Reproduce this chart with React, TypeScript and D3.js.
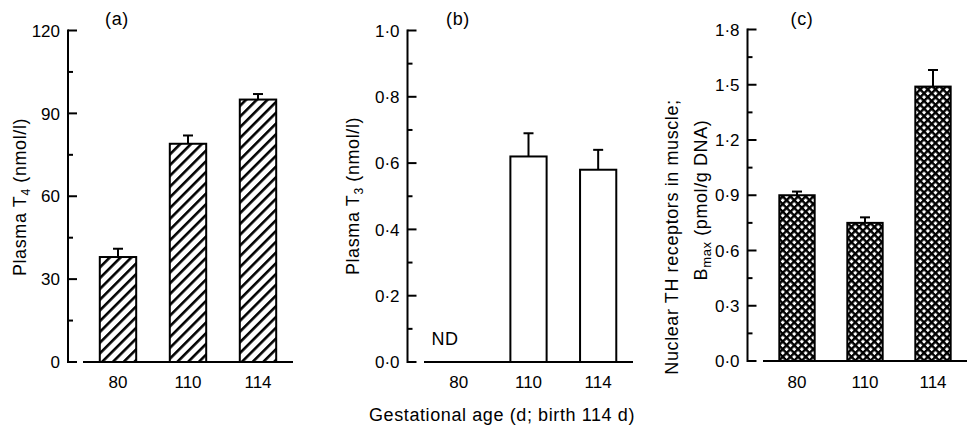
import React from 'react'
import * as d3 from 'd3'

// gestational age groups (d)
const categories = ['80', '110', '114']

// (a) plasma T4, nmol/l
const t4Values = [38, 79, 95]
const t4Errors = [3, 3, 2]
const t4Ticks = [0, 30, 60, 90, 120]

// (b) plasma T3, nmol/l (not detected at 80 d)
const t3Values: (number | null)[] = [null, 0.62, 0.58]
const t3Errors: (number | null)[] = [null, 0.07, 0.06]
const t3Ticks = [0, 0.2, 0.4, 0.6, 0.8, 1.0]

// (c) nuclear TH receptors, Bmax pmol/g DNA
const receptorValues = [0.9, 0.75, 1.49]
const receptorErrors = [0.02, 0.03, 0.09]
const receptorTicks = [0, 0.3, 0.6, 0.9, 1.2, 1.5, 1.8]

const font = '"Liberation Sans", Arial, Helvetica, sans-serif'

const dotFormat = (d: number) => d.toFixed(1).replace('.', '·')

// label text style
const lab = { fontSize: 18, letterSpacing: 0.6 }

type PanelProps = {
  title: string
  titleX: number
  axisX: number
  baseStart: number
  baseEnd: number
  yRange: [number, number]
  ticks: number[]
  values: (number | null)[]
  errors: (number | null)[]
  fill: string
  format: (d: number) => string
  children?: React.ReactNode
}

function Panel(props: PanelProps) {
  const { title, titleX, axisX, baseStart, baseEnd, yRange, ticks, values, errors, fill, format } = props

  const x = d3
    .scaleBand()
    .domain(categories)
    .range([baseStart, baseEnd])
    .paddingInner(0.48)
    .paddingOuter(0.24)

  const y = d3
    .scaleLinear()
    .domain([0, ticks[ticks.length - 1]])
    .range(yRange)

  // minor ticks halfway between labelled ones
  const minor = d3.pairs(ticks).map(([a, b]) => (a + b) / 2)
  const mid = (c: string) => x(c)! + x.bandwidth() / 2

  return (
    <g>
      <text x={titleX} y={25} textAnchor="middle" {...lab}>
        {title}
      </text>

      {/* y axis */}
      <line x1={axisX} x2={axisX} y1={y(ticks[ticks.length - 1]) - 1} y2={y(0) + 1} stroke="#000" strokeWidth={2} />
      {ticks.map((t, i) => (
        <g key={i} transform={`translate(${axisX}, ${y(t)})`}>
          <line x1={0} x2={9} stroke="#000" strokeWidth={2} />
          <text x={-8} dy="0.36em" textAnchor="end" fontSize={17}>
            {format(t)}
          </text>
        </g>
      ))}
      {minor.map((t, i) => (
        <line key={i} x1={axisX} x2={axisX + 5} y1={y(t)} y2={y(t)} stroke="#000" strokeWidth={2} />
      ))}

      {/* baseline */}
      <line x1={baseStart} x2={baseEnd} y1={y(0)} y2={y(0)} stroke="#000" strokeWidth={2} />

      {/* bars with upper error bars */}
      {values.map((v, i) => {
        if (v == null) return null
        const c = categories[i]
        const top = y(v + (errors[i] ?? 0))
        return (
          <g key={i}>
            <line x1={mid(c)} x2={mid(c)} y1={y(v)} y2={top} stroke="#000" strokeWidth={2} />
            <line x1={mid(c) - 5} x2={mid(c) + 5} y1={top} y2={top} stroke="#000" strokeWidth={2} />
            <rect
              x={x(c)}
              y={y(v)}
              width={x.bandwidth()}
              height={y(0) - y(v)}
              fill={fill}
              stroke="#000"
              strokeWidth={2}
            />
          </g>
        )
      })}

      {/* category labels */}
      {categories.map(c => (
        <text key={c} x={mid(c)} y={388} textAnchor="middle" fontSize={17}>
          {c}
        </text>
      ))}

      {props.children}
    </g>
  )
}

export default function App() {
  return (
    <svg
      width={967}
      height={437}
      style={{ position: 'absolute', left: 0, top: 0, background: '#fff' }}
      fontFamily={font}
      fill="#000"
    >
      <defs>
        <pattern id="hatch" width={7.6} height={7.6} patternUnits="userSpaceOnUse" patternTransform="rotate(45)">
          <rect width={7.6} height={7.6} fill="#fff" />
          <line x1={1.3} x2={1.3} y1={0} y2={7.6} stroke="#000" strokeWidth={2.6} />
        </pattern>
        <pattern id="cross" width={5.4} height={5.4} patternUnits="userSpaceOnUse" patternTransform="rotate(45)">
          <rect width={5.4} height={5.4} fill="#fff" />
          <line x1={1.2} x2={1.2} y1={0} y2={5.4} stroke="#000" strokeWidth={2.4} />
          <line x1={0} x2={5.4} y1={1.2} y2={1.2} stroke="#000" strokeWidth={2.4} />
        </pattern>
      </defs>

      <Panel
        title="(a)"
        titleX={117}
        axisX={68}
        baseStart={83}
        baseEnd={293}
        yRange={[362, 30.5]}
        ticks={t4Ticks}
        values={t4Values}
        errors={t4Errors}
        fill="url(#hatch)"
        format={d => String(d)}
      >
        <text transform="translate(26, 197) rotate(-90)" textAnchor="middle" {...lab}>
          Plasma T
          <tspan dy={4} fontSize={12}>4</tspan>
          <tspan dy={-4}> (nmol/l)</tspan>
        </text>
      </Panel>

      <Panel
        title="(b)"
        titleX={458}
        axisX={407.5}
        baseStart={424}
        baseEnd={633}
        yRange={[362, 30.5]}
        ticks={t3Ticks}
        values={t3Values}
        errors={t3Errors}
        fill="#fff"
        format={dotFormat}
      >
        <text transform="translate(359, 196) rotate(-90)" textAnchor="middle" {...lab}>
          Plasma T
          <tspan dy={4} fontSize={12}>3</tspan>
          <tspan dy={-4}> (nmol/l)</tspan>
        </text>
        <text x={445} y={345} textAnchor="middle" {...lab}>
          ND
        </text>
        <text x={502} y={421} textAnchor="middle" {...lab}>
          Gestational age (d; birth 114 d)
        </text>
      </Panel>

      <Panel
        title="(c)"
        titleX={802}
        axisX={747.5}
        baseStart={763}
        baseEnd={967}
        yRange={[361, 29.5]}
        ticks={receptorTicks}
        values={receptorValues}
        errors={receptorErrors}
        fill="url(#cross)"
        format={dotFormat}
      >
        <text transform="translate(678, 237) rotate(-90)" textAnchor="middle" {...lab}>
          Nuclear TH receptors in muscle;
        </text>
        <text transform="translate(707, 200) rotate(-90)" textAnchor="middle" {...lab}>
          B<tspan dy={4} fontSize={13}>max</tspan>
          <tspan dy={-4}> (pmol/g DNA)</tspan>
        </text>
      </Panel>
    </svg>
  )
}
